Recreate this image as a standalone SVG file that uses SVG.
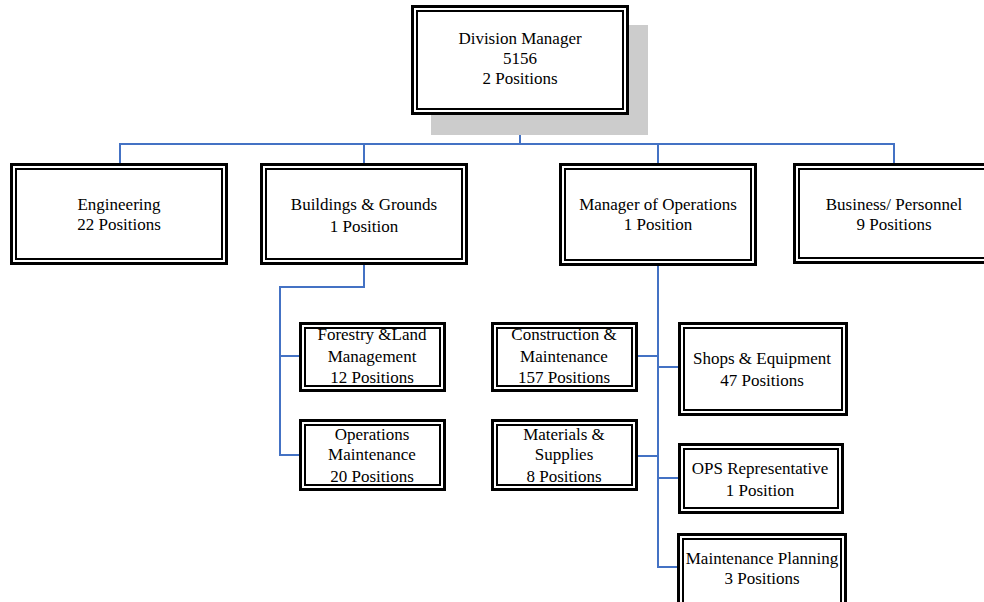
<svg xmlns="http://www.w3.org/2000/svg" width="984" height="602" viewBox="0 0 984 602">
<style>
.o{fill:#fff;stroke:#000;stroke-width:3}
.i{fill:none;stroke:#000;stroke-width:2}
.t{font-family:"Liberation Serif","Times New Roman",serif;font-size:17px;fill:#000;text-anchor:middle}
.c{fill:none;stroke:#4472C4;stroke-width:2}
</style>
<rect x="0" y="0" width="984" height="602" fill="#fff"/>
<g id="connectors">
<path class="c" d="M520 115V144M120 163V144H894V163M364 144V163M658 144V163"/>
<path class="c" d="M364 265V287H280V455H299M280 356H299"/>
<path class="c" d="M658 266V567H677M638 356H658M638 456H658M658 367H678M658 478H678"/>
</g>
<g id="division-manager">
<rect x="431" y="25" width="217" height="110" fill="#cccccc"/>
<rect class="o" x="412.5" y="6.5" width="215" height="107"/>
<rect class="i" x="417" y="11" width="206" height="98"/>
<text class="t" x="520" y="44">Division Manager</text>
<text class="t" x="520" y="64">5156</text>
<text class="t" x="520" y="84">2 Positions</text>
</g>
<g id="engineering">
<rect class="o" x="11.5" y="164.5" width="215" height="99"/>
<rect class="i" x="16" y="169" width="206" height="90"/>
<text class="t" x="119" y="210">Engineering</text>
<text class="t" x="119" y="230">22 Positions</text>
</g>
<g id="buildings-grounds">
<rect class="o" x="261.5" y="164.5" width="205" height="99"/>
<rect class="i" x="266" y="169" width="196" height="90"/>
<text class="t" x="364" y="210">Buildings  &amp; Grounds</text>
<text class="t" x="364" y="232">1 Position</text>
</g>
<g id="manager-operations">
<rect class="o" x="560.5" y="164.5" width="195" height="100"/>
<rect class="i" x="565" y="169" width="186" height="91"/>
<text class="t" x="658" y="210">Manager of Operations</text>
<text class="t" x="658" y="230">1 Position</text>
</g>
<g id="business-personnel">
<rect class="o" x="794.5" y="164.5" width="210" height="98"/>
<rect class="i" x="799" y="169" width="201" height="89"/>
<text class="t" x="894" y="210">Business/ Personnel</text>
<text class="t" x="894" y="230">9 Positions</text>
</g>
<g id="forestry">
<rect class="o" x="300.5" y="323.5" width="144" height="67"/>
<rect class="i" x="305" y="328" width="135" height="58"/>
<text class="t" x="372" y="340">Forestry &amp;Land</text>
<text class="t" x="372" y="362">Management</text>
<text class="t" x="372" y="383">12  Positions</text>
</g>
<g id="operations-maintenance">
<rect class="o" x="300.5" y="420.5" width="144" height="69"/>
<rect class="i" x="305" y="425" width="135" height="60"/>
<text class="t" x="372" y="440">Operations</text>
<text class="t" x="372" y="460">Maintenance</text>
<text class="t" x="372" y="482">20  Positions</text>
</g>
<g id="construction-maintenance">
<rect class="o" x="492.5" y="323.5" width="144" height="67"/>
<rect class="i" x="497" y="328" width="135" height="58"/>
<text class="t" x="564" y="340">Construction &amp;</text>
<text class="t" x="564" y="362">Maintenance</text>
<text class="t" x="564" y="383">157  Positions</text>
</g>
<g id="materials-supplies">
<rect class="o" x="492.5" y="420.5" width="144" height="69"/>
<rect class="i" x="497" y="425" width="135" height="60"/>
<text class="t" x="564" y="440">Materials &amp;</text>
<text class="t" x="564" y="460">Supplies</text>
<text class="t" x="564" y="482">8 Positions</text>
</g>
<g id="shops-equipment">
<rect class="o" x="679.5" y="323.5" width="167" height="91"/>
<rect class="i" x="684" y="328" width="158" height="82"/>
<text class="t" x="762" y="364">Shops  &amp; Equipment</text>
<text class="t" x="762" y="386">47 Positions</text>
</g>
<g id="ops-representative">
<rect class="o" x="679.5" y="444.5" width="163" height="68"/>
<rect class="i" x="684" y="449" width="154" height="59"/>
<text class="t" x="760" y="474">OPS Representative</text>
<text class="t" x="760" y="496">1 Position</text>
</g>
<g id="maintenance-planning">
<rect class="o" x="678.5" y="534.5" width="167" height="80"/>
<rect class="i" x="683" y="539" width="158" height="71"/>
<text class="t" x="762" y="564">Maintenance Planning</text>
<text class="t" x="762" y="584">3 Positions</text>
</g>
</svg>
